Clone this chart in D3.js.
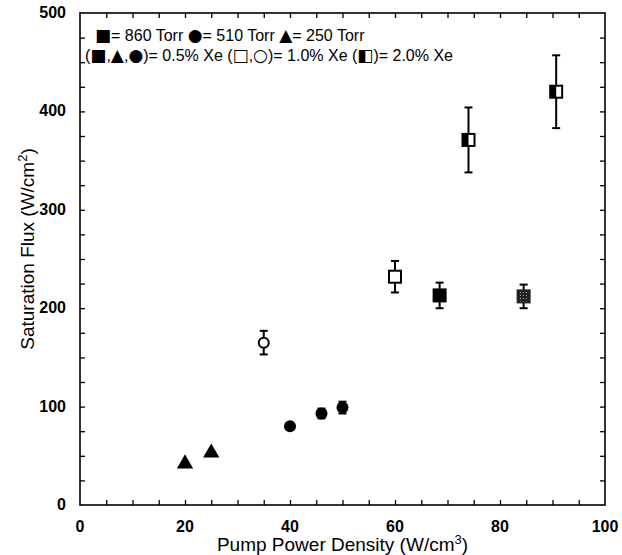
<!DOCTYPE html>
<html>
<head>
<meta charset="utf-8">
<script src="https://cdn.jsdelivr.net/npm/d3@7"></script>
<style>
  body { margin: 0; background: #fff; }
  svg { display: block; }
  text { font-family: "Liberation Sans", Arial, sans-serif; fill: #000; }
</style>
</head>
<body>
<svg id="chart" width="622" height="555"></svg>
<script>
// values: [x, y, error]
let tri250 = [[20, 42, 0], [25, 53, 0]]            // 250 Torr, 0.5% Xe
let circ510 = [[40, 80, 0], [46, 93, 5], [50, 99, 6]] // 510 Torr, 0.5% Xe
let openCirc = [[35, 165, 12]]                     // 1.0% Xe
let openSq = [[60, 232, 16]]                       // 1.0% Xe
let fillSq = [[68.5, 213, 13]]                     // 860 Torr, 0.5% Xe
let dotSq = [[84.5, 212, 12]]
let halfSq = [[74, 371, 33], [90.7, 420, 37]]      // 2.0% Xe

let xTicks = [0, 20, 40, 60, 80, 100]
let yTicks = [0, 100, 200, 300, 400, 500]
let legendLines = [
  "\u25A0= 860 Torr \u25CF= 510 Torr  \u25B2= 250 Torr",
  "(\u25A0,\u25B2,\u25CF)= 0.5% Xe (\u25A1,\u25CB)= 1.0% Xe (\u25E7)= 2.0% Xe"
]

let width = 622
let height = 555
let margin = { top: 13, right: 17, bottom: 50, left: 80 }

let svg = d3.select("#chart")

let x = d3.scaleLinear().domain([0, 100]).range([margin.left, width - margin.right])
let y = d3.scaleLinear().domain([0, 500]).range([height - margin.bottom, margin.top])

// frame
svg.append("rect")
  .attr("x", margin.left).attr("y", margin.top)
  .attr("width", width - margin.left - margin.right)
  .attr("height", height - margin.top - margin.bottom)
  .attr("fill", "none").attr("stroke", "#000").attr("stroke-width", 1.6)

// ticks on all four sides, pointing in
let xMinor = d3.range(5, 100, 5)
let yMinor = d3.range(25, 500, 25)

svg.append("g")
  .attr("transform", `translate(0,${y(0)})`)
  .call(d3.axisBottom(x).tickValues(xMinor).tickSize(-5).tickFormat(""))
  .call(g => g.select(".domain").remove())
svg.append("g")
  .attr("transform", `translate(0,${y(500)})`)
  .call(d3.axisTop(x).tickValues(xMinor).tickSize(-5).tickFormat(""))
  .call(g => g.select(".domain").remove())
svg.append("g")
  .attr("transform", `translate(${x(0)},0)`)
  .call(d3.axisLeft(y).tickValues(yMinor).tickSize(-5).tickFormat(""))
  .call(g => g.select(".domain").remove())
svg.append("g")
  .attr("transform", `translate(${x(100)},0)`)
  .call(d3.axisRight(y).tickValues(yMinor).tickSize(-5).tickFormat(""))
  .call(g => g.select(".domain").remove())

svg.selectAll(".tick line").attr("stroke-width", 1.3)

// tick labels
svg.append("g")
  .selectAll("text")
  .data(xTicks)
  .join("text")
  .attr("x", d => x(d))
  .attr("y", y(0) + 27)
  .attr("text-anchor", "middle")
  .style("font-size", "16px")
  .style("font-weight", "bold")
  .text(d => d)

svg.append("g")
  .selectAll("text")
  .data(yTicks)
  .join("text")
  .attr("x", x(0) - 14)
  .attr("y", d => y(d) + 5)
  .attr("text-anchor", "end")
  .style("font-size", "16px")
  .style("font-weight", "bold")
  .text(d => d)

// axis titles
let xt = svg.append("text")
  .attr("x", (x(0) + x(100)) / 2)
  .attr("y", 551)
  .attr("text-anchor", "middle")
  .style("font-size", "19px")
xt.append("tspan").text("Pump Power Density (W/cm")
xt.append("tspan").attr("dy", -7).style("font-size", "13px").text("3")
xt.append("tspan").attr("dy", 7).text(")")

let yt = svg.append("text")
  .attr("transform", `translate(34,${(y(0) + y(500)) / 2 - 10}) rotate(-90)`)
  .attr("text-anchor", "middle")
  .style("font-size", "19px")
yt.append("tspan").text("Saturation Flux (W/cm")
yt.append("tspan").attr("dy", -7).style("font-size", "13px").text("2")
yt.append("tspan").attr("dy", 7).text(")")

// legend text, symbols set a bit larger than the words
let symbolChars = /([\u25A0-\u25EF])/
let leg = svg.append("g")
  .selectAll("text")
  .data(legendLines)
  .join("text")
  .attr("x", (d, i) => i == 0 ? 95 : 85)
  .attr("y", (d, i) => 41 + i * 20)
  .style("font-size", "16px")
leg.selectAll("tspan")
  .data(d => d.split(symbolChars).filter(s => s.length))
  .join("tspan")
  .style("font-family", s => symbolChars.test(s) ? "'DejaVu Sans', sans-serif" : null)
  .style("font-size", s => symbolChars.test(s) ? "17px" : null)
  .text(s => s)

// stipple pattern for the grey square
let defs = svg.append("defs")
let pat = defs.append("pattern")
  .attr("id", "stipple")
  .attr("width", 3).attr("height", 3)
  .attr("patternUnits", "userSpaceOnUse")
pat.append("rect").attr("width", 3).attr("height", 3).attr("fill", "#222")
pat.append("rect").attr("x", 1).attr("y", 1).attr("width", 1).attr("height", 1).attr("fill", "#aaa")

// error bars
let allPts = [].concat(tri250, circ510, openCirc, openSq, fillSq, dotSq, halfSq).filter(d => d[2] > 0)
let bars = svg.append("g").attr("stroke", "#000").attr("stroke-width", 2)
bars.selectAll(".stem")
  .data(allPts)
  .join("line")
  .attr("x1", d => x(d[0])).attr("x2", d => x(d[0]))
  .attr("y1", d => y(d[1] - d[2])).attr("y2", d => y(d[1] + d[2]))
bars.selectAll(".capTop")
  .data(allPts)
  .join("line")
  .attr("x1", d => x(d[0]) - 4).attr("x2", d => x(d[0]) + 4)
  .attr("y1", d => y(d[1] + d[2])).attr("y2", d => y(d[1] + d[2]))
bars.selectAll(".capBot")
  .data(allPts)
  .join("line")
  .attr("x1", d => x(d[0]) - 4).attr("x2", d => x(d[0]) + 4)
  .attr("y1", d => y(d[1] - d[2])).attr("y2", d => y(d[1] - d[2]))

// markers
let tri = d3.symbol().type(d3.symbolTriangle).size(115)
svg.append("g")
  .selectAll("path")
  .data(tri250)
  .join("path")
  .attr("transform", d => `translate(${x(d[0])},${y(d[1])})`)
  .attr("d", tri)
  .attr("fill", "#000")

svg.append("g")
  .selectAll("circle")
  .data(circ510)
  .join("circle")
  .attr("cx", d => x(d[0])).attr("cy", d => y(d[1]))
  .attr("r", 6)
  .attr("fill", "#000")

svg.append("g")
  .selectAll("circle")
  .data(openCirc)
  .join("circle")
  .attr("cx", d => x(d[0])).attr("cy", d => y(d[1]))
  .attr("r", 5)
  .attr("fill", "#fff").attr("stroke", "#000").attr("stroke-width", 2)

function squares(data, fill) {
  return svg.append("g")
    .selectAll("rect")
    .data(data)
    .join("rect")
    .attr("x", d => x(d[0]) - 6).attr("y", d => y(d[1]) - 6)
    .attr("width", 12).attr("height", 12)
    .attr("fill", fill).attr("stroke", "#000").attr("stroke-width", 2)
}
squares(openSq, "#fff")
squares(fillSq, "#000")
squares(dotSq, "url(#stipple)").attr("stroke", "#222")

// half filled squares
let hs = svg.append("g")
  .selectAll("g")
  .data(halfSq)
  .join("g")
  .attr("transform", d => `translate(${x(d[0])},${y(d[1])})`)
hs.append("rect")
  .attr("x", -6).attr("y", -6).attr("width", 12).attr("height", 12)
  .attr("fill", "#fff").attr("stroke", "#000").attr("stroke-width", 2)
hs.append("rect")
  .attr("x", -6).attr("y", -6).attr("width", 6).attr("height", 12)
  .attr("fill", "#000")
</script>
</body>
</html>
